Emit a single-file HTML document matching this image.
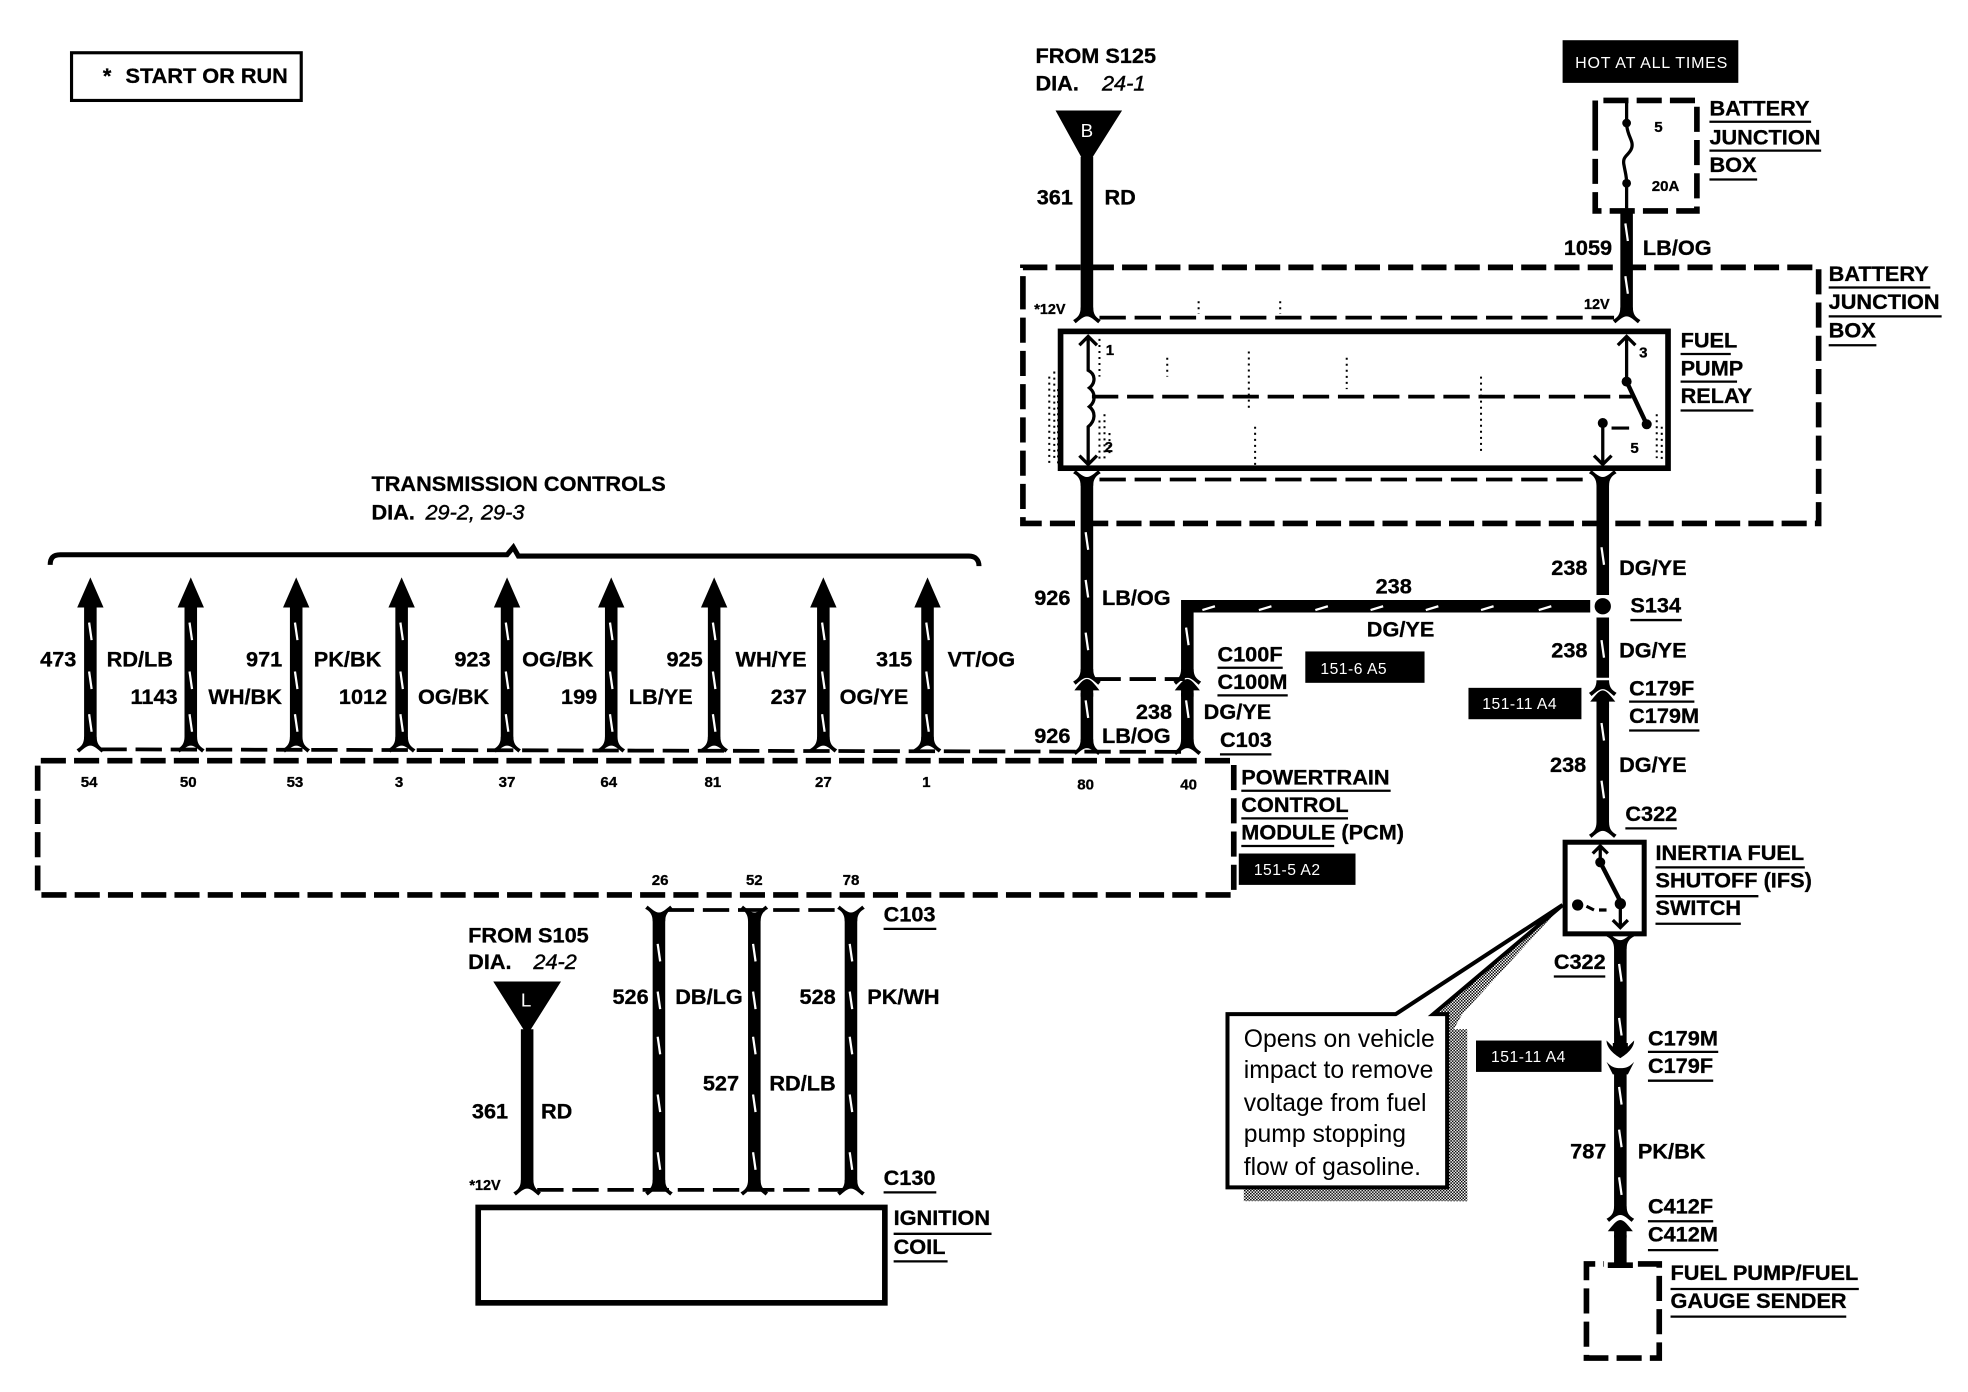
<!DOCTYPE html>
<html><head><meta charset="utf-8"><style>
html,body{margin:0;padding:0;background:#fff}
svg{display:block}
text{font-family:"Liberation Sans",sans-serif;font-weight:700;font-size:17.3px;fill:#000;stroke:#000;stroke-width:.25px}
.i{font-style:italic;font-weight:400;stroke-width:.35px}
text.s{font-size:12px}
text.w{fill:#fff;stroke:none;font-weight:400;font-size:12.5px;letter-spacing:.4px}
text.r{font-weight:400;font-size:19.7px;stroke:none}
.wire{stroke:#000;stroke-width:10;fill:none}
.sl{stroke:#fff;stroke-width:1.8;fill:none}
.d{stroke:#000;stroke-width:4.5;fill:none;stroke-dasharray:20 6.5}
.td{stroke:#000;stroke-width:3;fill:none;stroke-dasharray:21 7}
.u{stroke:#000;stroke-width:1.8;fill:none}
.b{stroke:#000;stroke-width:4.5;fill:none}
.t{stroke:#000;stroke-width:2.6;fill:none}
</style></head><body>
<svg xmlns="http://www.w3.org/2000/svg" width="1968" height="1392" viewBox="0 0 1568 1109">
<defs>
<pattern id="dith" width="2.4" height="2.4" patternUnits="userSpaceOnUse"><rect width="2.4" height="2.4" fill="#fff"/><rect width="1.2" height="1.2" fill="#000"/><rect x="1.2" y="1.2" width="1.2" height="1.2" fill="#000"/></pattern>
<path id="fd" d="M-11 5C-7 3-5 0-5-5L5-5C5 0 7 3 11 5L9 7.5C6 5 3 2 0 2C-3 2-6 5-9 7.5Z"/>
<path id="fu" d="M-11-5C-7-3-5 0-5 5L5 5C5 0 7-3 11-5L9-7.5C6-5 3-2 0-2C-3-2-6-5-9-7.5Z"/>
<path id="au" d="M0-5C3-5 6-1 10 4L5 4L5 9L-5 9L-5 4L-10 4C-6-1-3-5 0-5Z"/>
<g id="a">
<path class="wire" d="M0 478V592"/>
<path d="M0 460L10.5 484H-10.5Z"/>
<path class="sl" d="M-1 496l2 14M-1 535l2 14M-1 569l2 14"/>
<use href="#fd" y="592"/>
</g>
</defs>
<rect width="1568" height="1109" fill="#fff"/>

<!-- start box -->
<rect x="57" y="42" width="183" height="38" fill="none" stroke="#000" stroke-width="2.5"/>
<text x="82" y="66">*</text><text x="100" y="66">START OR RUN</text>

<!-- from S125 -->
<text x="825" y="50">FROM S125</text>
<text x="825" y="72">DIA.</text><text class="i" x="878" y="72">24-1</text>
<path d="M841 88H894L870 126V129H862V126Z"/>
<text x="861" y="109" style="fill:#fff;stroke:none;font-weight:400;font-size:15px">B</text>
<path class="wire" d="M866 125V250"/>
<text x="826" y="163">361</text><text x="880" y="163">RD</text>

<!-- hot at all times -->
<rect x="1245" y="32" width="140" height="34"/>
<text class="w" x="1255" y="54" style="font-size:12.8px;letter-spacing:.6px">HOT AT ALL TIMES</text>
<path class="d" d="M1271 100V80H1352V168H1271V100" stroke-dasharray="16 6"/>
<path d="M1296 80V98" class="t"/><circle cx="1296" cy="98" r="3.5"/>
<path class="t" d="M1296 98C1296 108 1302 112 1300 118C1298 124 1292 124 1294 132C1295 138 1296 140 1296 146V166"/>
<circle cx="1296" cy="146" r="3.5"/>
<text class="s" x="1318" y="105">5</text><text class="s" x="1316" y="152">20A</text>
<text x="1362" y="92">BATTERY</text><path class="u" d="M1362 97H1443"/>
<text x="1362" y="115">JUNCTION</text><path class="u" d="M1362 120H1451"/>
<text x="1362" y="137">BOX</text><path class="u" d="M1362 143H1400"/>
<path class="wire" d="M1296 166V250"/>
<path class="sl" d="M1295 178l2 14M1295 220l2 14"/>
<text x="1246" y="203">1059</text><text x="1309" y="203">LB/OG</text>

<!-- outer battery junction box -->
<path class="d" d="M815 240V213H1449V417H815V240"/>
<text x="1457" y="224">BATTERY</text><path class="u" d="M1457 229H1538"/>
<text x="1457" y="246">JUNCTION</text><path class="u" d="M1457 252H1547"/>
<text x="1457" y="269">BOX</text><path class="u" d="M1457 275H1495"/>

<text x="824" y="250" style="font-size:11.5px">*12V</text>
<text x="1262" y="246" style="font-size:11.5px">12V</text>
<use href="#fd" x="866" y="250"/><use href="#fd" x="1296" y="250"/>
<path class="td" d="M876 253H1286"/>

<!-- relay -->
<rect x="845" y="264" width="484" height="109" class="b"/>
<text x="1339" y="277">FUEL</text><path class="u" d="M1339 282H1379"/>
<text x="1339" y="299">PUMP</text><path class="u" d="M1339 304H1384"/>
<text x="1339" y="321">RELAY</text><path class="u" d="M1339 327H1397"/>
<path class="t" d="M867 268V295C873 298 873 305 868 309C873 313 873 320 868 324C873 328 873 335 867 340V370"/>
<path class="t" d="M860 275L867 268L874 275M860 363L867 370L874 363"/>
<text x="881" y="283" class="s">1</text><text x="880" y="360" class="s">2</text>
<path class="td" d="M870 316H1300" stroke-dasharray="18 5" stroke-width="2.6"/>
<path class="t" d="M1296 268V304M1289 275L1296 268L1303 275"/>
<circle cx="1296" cy="304" r="4"/><path d="M1296 304L1312 338" stroke="#000" stroke-width="3.5"/><circle cx="1312" cy="338" r="4"/>
<circle cx="1277" cy="337" r="4"/><path d="M1284 341H1298" stroke="#000" stroke-width="2.5"/>
<path class="t" d="M1277 337V370M1270 363L1277 370L1284 363"/>
<text class="s" x="1306" y="285">3</text><text class="s" x="1299" y="361">5</text>
<!-- specks -->
<path stroke="#000" stroke-width="1.6" stroke-dasharray="1.6 3.2" fill="none" d="M836 300V370M840 296V366M843 310V372M876 335V368M880 330V366M884 345V362M876 270V300M995 280V325M1000 340V372M1073 285V310M930 285V300M1180 300V360M1320 330V365M1324 340V368M955 240V250M1020 240V250"/>

<use href="#fu" x="866" y="382"/><use href="#fu" x="1277" y="382"/>
<path class="td" d="M876 382H1268"/>
<path class="wire" d="M866 382V540"/>
<path class="sl" d="M865 424l2 14M865 462l2 14M865 504l2 14"/>
<path class="wire" d="M1277 382V474"/>
<path class="sl" d="M1276 436l2 14"/>
<text x="1236" y="458">238</text><text x="1290" y="458">DG/YE</text>
<circle cx="1277" cy="483" r="6.5"/>
<text x="1299" y="488">S134</text><path class="u" d="M1299 494H1340"/>
<path class="wire" d="M1277 492V540"/>
<path class="sl" d="M1276 510l2 14"/>
<text x="1236" y="524">238</text><text x="1290" y="524">DG/YE</text>
<path class="wire" d="M1267 483H946V540"/>
<path class="sl" d="M958 486l10-3M1003 486l10-3M1048 486l10-3M1092 486l10-3M1136 486l10-3M1180 486l10-3M1226 486l10-3M945 500l2 14"/>
<text x="1096" y="473">238</text><text x="1089" y="507">DG/YE</text>
<rect x="1040" y="519" width="95" height="25"/>
<text class="w" x="1052" y="537">151-6 A5</text>
<text x="824" y="482">926</text><text x="878" y="482">LB/OG</text>
<text x="970" y="527">C100F</text><path class="u" d="M970 532H1022"/>
<text x="970" y="549">C100M</text><path class="u" d="M970 554H1026"/>

<!-- connectors at C100 -->
<use href="#fd" x="866" y="538"/><use href="#fd" x="946" y="538"/>
<path class="td" d="M872 541H944"/>
<use href="#au" x="866" y="546"/><use href="#au" x="946" y="546"/>
<path class="wire" d="M866 552V594M946 552V594"/>
<path class="sl" d="M865 558l2 14M945 558l2 14"/>
<use href="#fd" x="866" y="594"/><use href="#fd" x="946" y="594"/>
<text x="824" y="592">926</text><text x="878" y="592">LB/OG</text>
<text x="905" y="573">238</text><text x="959" y="573">DG/YE</text>
<text x="972" y="595">C103</text><path class="u" d="M972 601H1013"/>

<!-- right column -->
<use href="#fd" x="1277" y="547"/><use href="#au" x="1277" y="555"/>
<path class="wire" d="M1277 561V658"/>
<path class="sl" d="M1276 576l2 14M1276 622l2 14"/>
<use href="#fd" x="1277" y="660"/>
<text x="1298" y="554">C179F</text><path class="u" d="M1298 559H1350"/>
<text x="1298" y="576">C179M</text><path class="u" d="M1298 582H1354"/>
<rect x="1170" y="548" width="90" height="25"/>
<text class="w" x="1181" y="565">151-11 A4</text>
<text x="1235" y="615">238</text><text x="1290" y="615">DG/YE</text>
<text x="1295" y="654">C322</text><path class="u" d="M1295 660H1336"/>

<!-- IFS -->
<path d="M1245 721L1165 808L1155 826L1142 808L1160 790Z" fill="url(#dith)"/>
<rect x="1153" y="820" width="16" height="137" fill="url(#dith)"/>
<rect x="991" y="946" width="178" height="11" fill="url(#dith)"/>
<path d="M1245 721L1112 808H978V946H1153V808H1142Z" fill="#fff" stroke="#000" stroke-width="3.2" stroke-linejoin="miter"/>
<text class="r" x="991" y="834">Opens on vehicle</text>
<text class="r" x="991" y="859">impact to remove</text>
<text class="r" x="991" y="885">voltage from fuel</text>
<text class="r" x="991" y="910">pump stopping</text>
<text class="r" x="991" y="936">flow of gasoline.</text>
<rect x="1247" y="671" width="63" height="73" fill="#fff" stroke="#000" stroke-width="4"/>
<text x="1319" y="685">INERTIA FUEL</text><path class="u" d="M1319 691H1438"/>
<text x="1319" y="707">SHUTOFF (IFS)</text><path class="u" d="M1319 714H1401"/>
<text x="1319" y="729">SWITCH</text><path class="u" d="M1319 736H1387"/>
<path class="t" d="M1275 674V687M1269 680L1275 674L1281 680"/>
<circle cx="1275" cy="687" r="4"/><path d="M1275 687L1291 718" stroke="#000" stroke-width="3.5"/><circle cx="1291" cy="720" r="4.5"/>
<path class="t" d="M1291 720V739M1285 733L1291 739L1297 733"/>
<circle cx="1257" cy="721" r="4.5"/><path d="M1264 722L1270 725M1274 725H1280" stroke="#000" stroke-width="2.5"/>
<use href="#fu" x="1291" y="751"/>
<path class="wire" d="M1291 751V836"/>
<path class="sl" d="M1290 768l2 14M1290 811l2 14"/>
<path d="M1280 829L1285 834V831H1297V834L1302 829C1302 835 1296 840 1291 843C1286 840 1280 835 1280 829Z"/>
<text x="1238" y="772">C322</text><path class="u" d="M1238 778H1279"/>
<path d="M1280 846C1284 850 1286 851 1291 851C1296 851 1298 850 1302 846L1297 856H1285Z"/>
<path class="wire" d="M1291 852V966"/>
<path class="sl" d="M1290 866l2 14M1290 900l2 14M1290 938l2 14"/>
<use href="#fd" x="1291" y="966"/>
<use href="#au" x="1291" y="977"/>
<path class="wire" d="M1291 984V1008"/>
<rect x="1176" y="829" width="100" height="25"/>
<text class="w" x="1188" y="846">151-11 A4</text>
<text x="1313" y="833">C179M</text><path class="u" d="M1313 838H1369"/>
<text x="1313" y="855">C179F</text><path class="u" d="M1313 861H1365"/>
<text x="1251" y="923">787</text><text x="1305" y="923">PK/BK</text>
<text x="1313" y="967">C412F</text><path class="u" d="M1313 973H1365"/>
<text x="1313" y="989">C412M</text><path class="u" d="M1313 996H1369"/>
<path class="d" d="M1264 1020V1007H1278M1281 1008H1301M1305 1007H1322V1082H1264V1020" stroke-dasharray="15 6"/>
<text x="1331" y="1020">FUEL PUMP/FUEL</text><path class="u" d="M1331 1027H1481"/>
<text x="1331" y="1042">GAUGE SENDER</text><path class="u" d="M1331 1049H1471"/>

<!-- transmission -->
<text x="296" y="391">TRANSMISSION CONTROLS</text>
<text x="296" y="414">DIA.</text><text class="i" x="339" y="414">29-2, 29-3</text>
<path d="M40 450C40 445 42 442 48 442H404L409 436L413 443H772C777 443 780 446 780 451" fill="none" stroke="#000" stroke-width="4"/>
<use href="#a" x="72"/><use href="#a" x="152"/><use href="#a" x="236"/><use href="#a" x="320"/><use href="#a" x="404"/><use href="#a" x="487"/><use href="#a" x="569"/><use href="#a" x="656"/><use href="#a" x="739"/>
<path class="td" d="M80 597L944 599" stroke-dasharray="20 8"/>
<text x="32" y="531">473</text><text x="85" y="531">RD/LB</text>
<text x="196" y="531">971</text><text x="250" y="531">PK/BK</text>
<text x="362" y="531">923</text><text x="416" y="531">OG/BK</text>
<text x="531" y="531">925</text><text x="586" y="531">WH/YE</text>
<text x="698" y="531">315</text><text x="755" y="531">VT/OG</text>
<text x="104" y="561">1143</text><text x="166" y="561">WH/BK</text>
<text x="270" y="561">1012</text><text x="333" y="561">OG/BK</text>
<text x="447" y="561">199</text><text x="501" y="561">LB/YE</text>
<text x="614" y="561">237</text><text x="669" y="561">OG/YE</text>

<!-- PCM -->
<path class="d" d="M30 630V606H983V713H30V630"/>
<g text-anchor="middle">
<text class="s" x="71" y="627">54</text><text class="s" x="150" y="627">50</text><text class="s" x="235" y="627">53</text><text class="s" x="318" y="627">3</text><text class="s" x="404" y="627">37</text><text class="s" x="485" y="627">64</text><text class="s" x="568" y="627">81</text><text class="s" x="656" y="627">27</text><text class="s" x="738" y="627">1</text><text class="s" x="865" y="629">80</text><text class="s" x="947" y="629">40</text>
<text class="s" x="526" y="705">26</text><text class="s" x="601" y="705">52</text><text class="s" x="678" y="705">78</text>
</g>
<text x="989" y="625">POWERTRAIN</text><path class="u" d="M989 630H1108"/>
<text x="989" y="647">CONTROL</text><path class="u" d="M989 652H1074"/>
<text x="989" y="669">MODULE (PCM)</text><path class="u" d="M989 674H1063"/>
<rect x="987" y="680" width="93" height="25"/>
<text class="w" x="999" y="697">151-5 A2</text>

<!-- lower wires -->
<use href="#fu" x="525" y="729"/><use href="#fu" x="601" y="729"/><use href="#fu" x="678" y="729"/>
<path class="td" d="M532 725H672" stroke-dasharray="20 9"/>
<path class="wire" d="M525 729V945M601 729V945M678 729V945"/>
<path class="sl" d="M524 752l2 14M524 790l2 14M524 826l2 14M524 872l2 14M524 918l2 14M600 752l2 14M600 790l2 14M600 826l2 14M600 872l2 14M600 918l2 14M677 752l2 14M677 790l2 14M677 826l2 14M677 872l2 14M677 918l2 14"/>
<use href="#fd" x="525" y="945"/><use href="#fd" x="601" y="945"/><use href="#fd" x="678" y="945"/><use href="#fd" x="420" y="945"/>
<path class="td" d="M428 948H672" stroke-dasharray="20 9"/>
<text x="704" y="734">C103</text><path class="u" d="M704 740H746"/>
<text x="704" y="944">C130</text><path class="u" d="M704 950H746"/>
<text x="373" y="751">FROM S105</text>
<text x="373" y="772">DIA.</text><text class="i" x="425" y="772">24-2</text>
<path d="M393 782H447L423 820V824H417V820Z"/>
<text x="415" y="802" style="fill:#fff;stroke:none;font-weight:400;font-size:15px">L</text>
<path class="wire" d="M420 820V945"/>
<text x="376" y="891">361</text><text x="431" y="891">RD</text>
<text x="374" y="948" style="font-size:11.5px">*12V</text>
<text x="488" y="800">526</text><text x="538" y="800">DB/LG</text>
<text x="637" y="800">528</text><text x="691" y="800">PK/WH</text>
<text x="560" y="869">527</text><text x="613" y="869">RD/LB</text>
<rect x="381" y="962" width="324" height="76" class="b"/>
<text x="712" y="976">IGNITION</text><path class="u" d="M712 983H790"/>
<text x="712" y="999">COIL</text><path class="u" d="M712 1005H755"/>
</svg>
</body></html>
